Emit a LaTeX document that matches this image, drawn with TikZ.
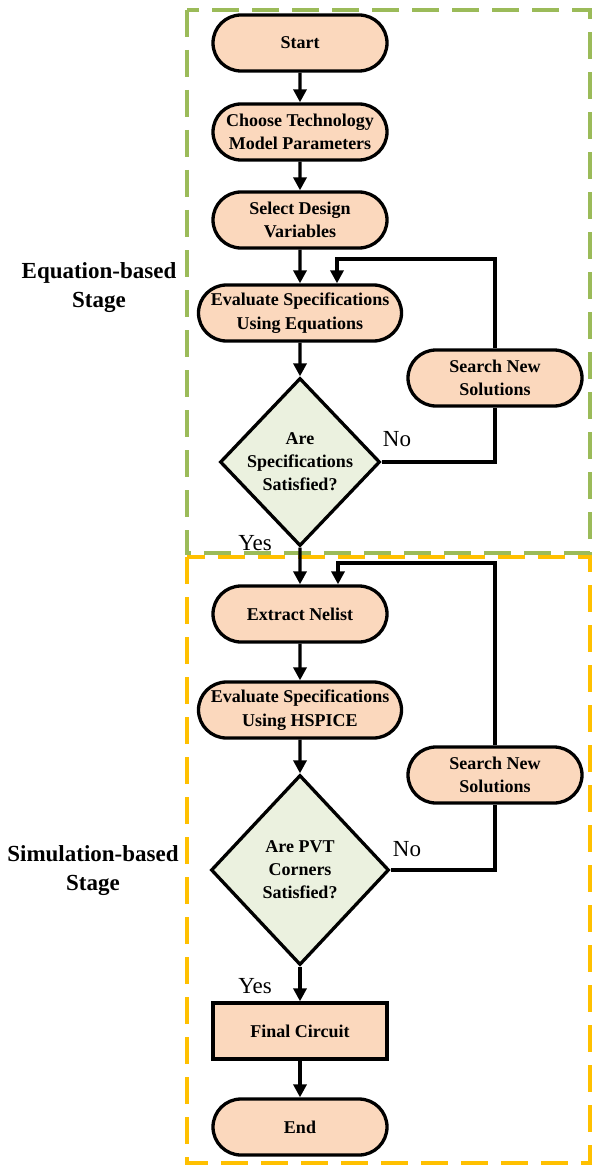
\documentclass[tikz,border=0pt]{standalone}
\usepackage{fontspec}
\setmainfont{Liberation Serif}
\usepackage{tikz}
\usetikzlibrary{arrows.meta}
\usetikzlibrary{shapes}
\usetikzlibrary{positioning}
\definecolor{peach}{RGB}{251,216,189}
\definecolor{pale green}{RGB}{235,241,223}
\definecolor{stage green}{RGB}{155,187,89}
\definecolor{stage yellow}{RGB}{255,192,0}
\tikzstyle{flow}=[line width=3.3pt,-{Triangle[length=13pt,width=13pt]}]
\tikzstyle{loop}=[line width=3.3pt]

\begin{document}
\begin{tikzpicture}[
  x=1pt, y=-1pt,
  box/.style={fill=peach,draw,line width=3.3pt,align=center,inner sep=0pt,
    minimum width=174pt,minimum height=56pt,
    font=\fontsize{18}{23.5}\selectfont\bfseries},
  terminal/.style={box,rounded rectangle},
  wide terminal/.style={terminal,minimum width=203pt},
  decision/.style={fill=pale green,draw,line width=3.3pt,diamond,inner sep=0pt},
  decision text/.style={align=center,font=\fontsize{18}{23}\selectfont\bfseries},
  stage/.style={line width=3.4pt,dash pattern=on 27pt off 13pt},
  answer/.style={font=\fontsize{23}{26}\selectfont},
  stage label/.style={align=center,font=\fontsize{23}{29}\selectfont\bfseries},
]
\useasboundingbox (0,0) rectangle (593,1166);

% stages
\draw[stage,stage green] (187,10) rectangle (590,553);
\draw[stage,stage yellow] (187,557) rectangle (590,1163);
\node[stage label] (eqstage) at (99,288) {Equation-based\\Stage};
\node[stage label] (simstage) at (93,871) {Simulation-based\\Stage};

% equation-based part
\node[terminal] (start) at (300,43) {Start};
\node[terminal] (tech) at (300,132) {Choose Technology\\Model Parameters};
\node[terminal] (select) at (300,220) {Select Design\\Variables};
\node[wide terminal] (evaleq) at (300,313) {Evaluate Specifications\\Using Equations};
\node[decision,minimum width=160pt,minimum height=168pt,
  label={[decision text]center:Are\\Specifications\\Satisfied?}] (checkeq) at (300,462) {};
\node[terminal] (searcheq) at (495,378) {Search New\\Solutions};
\coordinate (loopeq) at (337,259);

% simulation-based part
\node[terminal] (extract) at (300,614) {Extract Nelist};
\node[wide terminal] (evalsim) at (300,710) {Evaluate Specifications\\Using HSPICE};
\node[decision,minimum width=178pt,minimum height=190pt,
  label={[decision text]center:Are PVT\\Corners\\Satisfied?}] (checksim) at (300,870) {};
\node[terminal] (searchsim) at (495,775) {Search New\\Solutions};
\node[box] (final) at (300,1031) {Final Circuit};
\node[terminal] (stop) at (300,1127) {End};
\coordinate (loopsim) at (338,563);

\draw[flow] (start) -- (tech);
\draw[flow] (tech) -- (select);
\draw[flow] (select) -- (evaleq);
\draw[flow] (evaleq) -- (checkeq);
\draw[loop] (checkeq.east) -| (searcheq.south);
\draw[flow] (searcheq.north) |- (loopeq) -- (evaleq.north -| loopeq);
\draw[flow] (checkeq.south) -- (extract);
\draw[flow] (extract) -- (evalsim);
\draw[flow] (evalsim) -- (checksim);
\draw[loop] (checksim.east) -| (searchsim.south);
\draw[flow] (searchsim.north) |- (loopsim) -- (extract.north -| loopsim);
\draw[flow] (checksim.south) -- (final);
\draw[flow] (final) -- (stop);

\node[answer] (noeq) at (397,439) {No};
\node[answer] (yeseq) at (255,543) {Yes};
\node[answer] (nosim) at (407,849) {No};
\node[answer] (yessim) at (255,986) {Yes};
\end{tikzpicture}
\end{document}
